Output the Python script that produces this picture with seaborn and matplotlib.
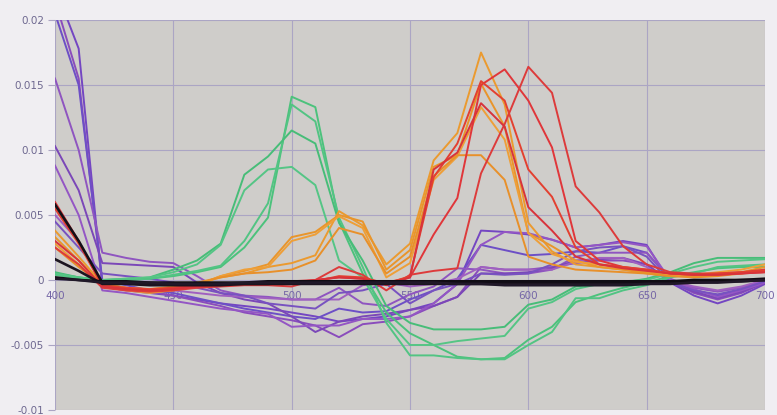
import matplotlib
matplotlib.use("Agg")
import matplotlib.pyplot as plt
import numpy as np
import pandas as pd
import seaborn as sns

# ---------------- data ----------------
wavelengths = list(range(400, 701, 10))

purple_1 = [0.0225, 0.0178, -0.0005, -0.0008, -0.0010, -0.0012, -0.0015, -0.0018, -0.0020, -0.0022, -0.0025, -0.0028, -0.0032, -0.0030, -0.0028, -0.0023, -0.0018, -0.0003, 0.0038, 0.0037, 0.0035, 0.0031, 0.0025, 0.0027, 0.0030, 0.0027, -0.0002, -0.0012, -0.0018, -0.0012, -0.0003]
purple_2 = [0.0215, 0.0155, -0.0003, -0.0006, -0.0009, -0.0012, -0.0016, -0.0020, -0.0025, -0.0028, -0.0031, -0.0035, -0.0044, -0.0034, -0.0032, -0.0028, -0.0020, -0.0013, 0.0010, 0.0008, 0.0008, 0.0010, 0.0013, 0.0015, 0.0015, 0.0012, -0.0001, -0.0010, -0.0015, -0.0010, -0.0002]
purple_3 = [0.0205, 0.0150, 0.0000, -0.0004, -0.0008, -0.0010, -0.0014, -0.0018, -0.0022, -0.0025, -0.0028, -0.0030, -0.0022, -0.0025, -0.0024, -0.0015, -0.0008, 0.0001, 0.0027, 0.0023, 0.0019, 0.0020, 0.0022, 0.0021, 0.0026, 0.0021, 0.0000, -0.0008, -0.0012, -0.0008, -0.0001]
purple_4 = [0.0155, 0.0100, 0.0021, 0.0017, 0.0014, 0.0013, 0.0003, -0.0008, -0.0012, -0.0013, -0.0015, -0.0015, -0.0006, -0.0018, -0.0020, -0.0011, -0.0005, 0.0009, 0.0008, 0.0005, 0.0005, 0.0008, 0.0018, 0.0021, 0.0021, 0.0021, 0.0001, -0.0006, -0.0009, -0.0006, 0.0000]
purple_5 = [0.0103, 0.0069, 0.0013, 0.0012, 0.0011, 0.0010, -0.0002, -0.0010, -0.0015, -0.0018, -0.0028, -0.0040, -0.0032, -0.0028, -0.0026, -0.0023, -0.0020, -0.0013, 0.0005, 0.0005, 0.0006, 0.0009, 0.0015, 0.0016, 0.0017, 0.0012, -0.0002, -0.0009, -0.0014, -0.0009, -0.0002]
purple_6 = [0.0088, 0.0050, -0.0008, -0.0010, -0.0013, -0.0016, -0.0019, -0.0022, -0.0024, -0.0026, -0.0036, -0.0035, -0.0035, -0.0030, -0.0030, -0.0028, -0.0018, -0.0003, 0.0027, 0.0037, 0.0036, 0.0031, 0.0025, 0.0027, 0.0029, 0.0026, 0.0000, -0.0007, -0.0013, -0.0008, -0.0002]
purple_7 = [0.0050, 0.0030, -0.0004, -0.0006, -0.0008, -0.0008, -0.0010, -0.0012, -0.0013, -0.0014, -0.0015, -0.0015, -0.0015, -0.0004, -0.0002, -0.0005, -0.0003, 0.0001, 0.0010, 0.0008, 0.0008, 0.0008, 0.0014, 0.0017, 0.0017, 0.0010, -0.0001, -0.0005, -0.0008, -0.0005, 0.0000]
purple_8 = [0.0045, 0.0025, 0.0005, 0.0003, 0.0001, -0.0002, -0.0006, -0.0010, -0.0012, -0.0018, -0.0020, -0.0022, -0.0010, -0.0008, -0.0003, -0.0018, -0.0008, -0.0003, 0.0005, 0.0004, 0.0005, 0.0012, 0.0022, 0.0025, 0.0026, 0.0018, -0.0002, -0.0008, -0.0011, -0.0007, -0.0001]

green_1 = [0.0005, 0.0002, 0.0000, 0.0000, 0.0001, 0.0003, 0.0006, 0.0010, 0.0025, 0.0048, 0.0141, 0.0133, 0.0045, 0.0005, -0.0025, -0.0041, -0.0050, -0.0059, -0.0061, -0.0060, -0.0046, -0.0036, -0.0017, -0.0011, -0.0006, -0.0002, 0.0003, 0.0006, 0.0009, 0.0010, 0.0010]
green_2 = [0.0004, 0.0001, 0.0000, 0.0000, 0.0001, 0.0004, 0.0007, 0.0011, 0.0030, 0.0059, 0.0135, 0.0122, 0.0048, 0.0010, -0.0033, -0.0058, -0.0058, -0.0060, -0.0061, -0.0061, -0.0050, -0.0040, -0.0014, -0.0014, -0.0008, -0.0004, 0.0002, 0.0005, 0.0010, 0.0011, 0.0012]
green_3 = [0.0006, 0.0002, 0.0000, 0.0001, 0.0002, 0.0008, 0.0015, 0.0028, 0.0081, 0.0095, 0.0115, 0.0105, 0.0044, 0.0015, -0.0020, -0.0033, -0.0038, -0.0038, -0.0038, -0.0036, -0.0019, -0.0015, -0.0005, -0.0003, -0.0002, 0.0001, 0.0006, 0.0013, 0.0017, 0.0017, 0.0017]
green_4 = [0.0005, 0.0002, 0.0000, 0.0001, 0.0002, 0.0006, 0.0012, 0.0027, 0.0069, 0.0085, 0.0087, 0.0073, 0.0015, 0.0002, -0.0030, -0.0050, -0.0050, -0.0047, -0.0045, -0.0043, -0.0022, -0.0017, -0.0007, -0.0003, -0.0001, 0.0000, 0.0005, 0.0010, 0.0014, 0.0015, 0.0016]

orange_1 = [0.0038, 0.0018, -0.0003, -0.0006, -0.0008, -0.0006, -0.0003, 0.0002, 0.0005, 0.0010, 0.0013, 0.0019, 0.0053, 0.0042, 0.0012, 0.0028, 0.0092, 0.0113, 0.0175, 0.0135, 0.0044, 0.0022, 0.0012, 0.0010, 0.0008, 0.0006, 0.0004, 0.0003, 0.0004, 0.0005, 0.0008]
orange_2 = [0.0033, 0.0015, -0.0004, -0.0007, -0.0009, -0.0007, -0.0004, 0.0003, 0.0007, 0.0012, 0.0033, 0.0037, 0.0050, 0.0045, 0.0008, 0.0023, 0.0087, 0.0096, 0.0151, 0.0118, 0.0036, 0.0026, 0.0015, 0.0010, 0.0008, 0.0005, 0.0003, 0.0003, 0.0004, 0.0006, 0.0010]
orange_3 = [0.0028, 0.0012, -0.0005, -0.0008, -0.0010, -0.0008, -0.0004, 0.0003, 0.0008, 0.0010, 0.0030, 0.0035, 0.0049, 0.0040, 0.0002, 0.0013, 0.0077, 0.0095, 0.0133, 0.0108, 0.0036, 0.0020, 0.0014, 0.0012, 0.0010, 0.0007, 0.0004, 0.0004, 0.0006, 0.0008, 0.0012]
orange_4 = [0.0025, 0.0010, -0.0003, -0.0006, -0.0007, -0.0005, -0.0002, 0.0002, 0.0005, 0.0006, 0.0008, 0.0015, 0.0040, 0.0035, 0.0005, 0.0018, 0.0080, 0.0096, 0.0096, 0.0077, 0.0018, 0.0012, 0.0008, 0.0007, 0.0006, 0.0005, 0.0003, 0.0002, 0.0003, 0.0005, 0.0007]

red_1 = [0.0060, 0.0030, -0.0005, -0.0007, -0.0008, -0.0006, -0.0004, -0.0003, -0.0003, -0.0002, -0.0001, 0.0000, 0.0002, 0.0001, -0.0002, 0.0002, 0.0035, 0.0063, 0.0150, 0.0162, 0.0138, 0.0102, 0.0030, 0.0015, 0.0010, 0.0008, 0.0005, 0.0004, 0.0004, 0.0005, 0.0006]
red_2 = [0.0025, 0.0012, -0.0006, -0.0008, -0.0009, -0.0008, -0.0006, -0.0005, -0.0004, -0.0004, -0.0005, 0.0000, 0.0010, 0.0004, -0.0008, 0.0004, 0.0007, 0.0009, 0.0082, 0.0120, 0.0164, 0.0144, 0.0072, 0.0052, 0.0026, 0.0012, 0.0006, 0.0005, 0.0005, 0.0006, 0.0008]
red_3 = [0.0055, 0.0028, -0.0004, -0.0006, -0.0007, -0.0006, -0.0005, -0.0004, -0.0003, -0.0003, -0.0003, -0.0001, 0.0003, 0.0002, -0.0003, 0.0003, 0.0079, 0.0105, 0.0153, 0.0138, 0.0085, 0.0064, 0.0025, 0.0012, 0.0010, 0.0008, 0.0005, 0.0004, 0.0005, 0.0006, 0.0007]
red_4 = [0.0030, 0.0015, -0.0005, -0.0007, -0.0008, -0.0007, -0.0005, -0.0004, -0.0003, -0.0003, -0.0002, 0.0000, 0.0002, 0.0001, -0.0004, 0.0002, 0.0085, 0.0098, 0.0136, 0.0118, 0.0056, 0.0038, 0.0018, 0.0012, 0.0009, 0.0007, 0.0005, 0.0004, 0.0004, 0.0005, 0.0006]

black_1 = [0.0058, 0.0030, -0.0002, -0.0002, -0.0003, -0.0003, -0.0003, -0.0003, -0.0003, -0.0003, -0.0002, -0.0002, -0.0002, -0.0002, -0.0002, -0.0002, -0.0002, -0.0002, -0.0002, -0.0002, -0.0002, -0.0002, -0.0002, -0.0002, -0.0002, -0.0002, -0.0002, -0.0001, -0.0001, 0.0000, 0.0000]
black_2 = [0.0016, 0.0007, -0.0003, -0.0003, -0.0004, -0.0004, -0.0004, -0.0004, -0.0003, -0.0003, -0.0003, -0.0003, -0.0003, -0.0003, -0.0003, -0.0003, -0.0003, -0.0003, -0.0003, -0.0003, -0.0003, -0.0003, -0.0003, -0.0003, -0.0003, -0.0003, -0.0002, -0.0002, -0.0001, -0.0001, 0.0000]
black_3 = [0.0002, 0.0000, -0.0001, -0.0001, -0.0002, -0.0002, -0.0002, -0.0002, -0.0002, -0.0001, -0.0001, -0.0001, -0.0001, -0.0001, -0.0001, -0.0001, -0.0001, -0.0001, -0.0001, -0.0001, -0.0001, -0.0001, -0.0001, -0.0001, -0.0001, -0.0001, -0.0001, 0.0000, 0.0000, 0.0000, 0.0001]
black_4 = [0.0001, 0.0000, -0.0002, -0.0002, -0.0002, -0.0003, -0.0003, -0.0003, -0.0002, -0.0002, -0.0002, -0.0002, -0.0002, -0.0002, -0.0002, -0.0002, -0.0002, -0.0003, -0.0003, -0.0004, -0.0004, -0.0004, -0.0004, -0.0004, -0.0004, -0.0003, -0.0003, -0.0002, -0.0002, -0.0001, 0.0000]

colored_series = {
    "purple_1": purple_1, "purple_2": purple_2, "purple_3": purple_3, "purple_4": purple_4,
    "purple_5": purple_5, "purple_6": purple_6, "purple_7": purple_7, "purple_8": purple_8,
    "green_1": green_1, "green_2": green_2, "green_3": green_3, "green_4": green_4,
    "orange_1": orange_1, "orange_2": orange_2, "orange_3": orange_3, "orange_4": orange_4,
    "red_1": red_1, "red_2": red_2, "red_3": red_3, "red_4": red_4,
}
black_series = {"black_1": black_1, "black_2": black_2, "black_3": black_3, "black_4": black_4}

colors = {
    "purple_1": "#7446c2", "purple_2": "#8a4cbc", "purple_3": "#6d4fc6", "purple_4": "#8f55c0",
    "purple_5": "#7b47b8", "purple_6": "#9456c4", "purple_7": "#a060c0", "purple_8": "#7852c0",
    "green_1": "#4cc27c", "green_2": "#52c483", "green_3": "#47bd78", "green_4": "#55c585",
    "orange_1": "#eb9a2f", "orange_2": "#e9952b", "orange_3": "#ee9f38", "orange_4": "#e8902a",
    "red_1": "#e0363a", "red_2": "#dd3b3b", "red_3": "#e34030", "red_4": "#d8333b",
    "black_1": "#141018", "black_2": "#1c1420", "black_3": "#100c14", "black_4": "#201828",
}

y_ticks = [-0.01, -0.005, 0, 0.005, 0.01, 0.015, 0.02]
y_tick_labels = ["-0.01", "-0.005", "0", "0.005", "0.01", "0.015", "0.02"]
x_ticks = [400, 450, 500, 550, 600, 650, 700]
x_tick_labels = ["400", "450", "500", "550", "600", "650", "700"]


def to_long(d):
    rows = []
    for name, vals in d.items():
        for w, v in zip(wavelengths, vals):
            rows.append((name, w, v))
    return pd.DataFrame(rows, columns=["name", "wl", "val"])


df_col = to_long(colored_series)
df_blk = to_long(black_series)

# ---------------- style ----------------
sns.set_style({"axes.facecolor": "#cfcdca", "figure.facecolor": "#f0eef2"})
plt.rcParams["font.family"] = ["DejaVu Sans"]

fig = plt.figure(figsize=(7.77, 4.15), dpi=100)
ax = fig.add_axes([55 / 777, 1 - 410 / 415, 710 / 777, 390 / 415])
ax.set_facecolor("#cfcdca")

sns.lineplot(data=df_col, x="wl", y="val", hue="name", hue_order=list(colored_series),
             palette={k: colors[k] for k in colored_series}, lw=1.4, legend=False, ax=ax,
             estimator=None, sort=False)
sns.lineplot(data=df_blk, x="wl", y="val", hue="name", hue_order=list(black_series),
             palette={k: colors[k] for k in black_series}, lw=1.9, legend=False, ax=ax,
             estimator=None, sort=False)

ax.set_xlim(400, 700)
ax.set_ylim(-0.01, 0.02)
ax.set_xticks(x_ticks)
ax.set_xticklabels(x_tick_labels)
ax.set_yticks(y_ticks)
ax.set_yticklabels(y_tick_labels)
ax.set_xlabel("")
ax.set_ylabel("")

ax.grid(True, color="#aba5c4", lw=0.8)
ax.set_axisbelow(True)
for s in ax.spines.values():
    s.set_visible(False)
ax.spines["bottom"].set_position(("data", 0))

ax.tick_params(axis="x", length=0, pad=8, labelsize=7.5, labelcolor="#7566a6")
ax.tick_params(axis="y", length=5, width=0.8, color="#aba5c4", pad=3,
               labelsize=7.5, labelcolor="#6e6890")

fig.savefig("out.png", dpi=100, facecolor=fig.get_facecolor())
